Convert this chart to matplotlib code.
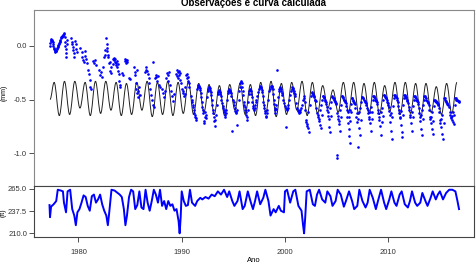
import matplotlib
matplotlib.use("Agg")
import matplotlib.pyplot as plt
from matplotlib.path import Path
from matplotlib.patches import PathPatch

plt.rcParams['font.family'] = ['Liberation Sans', 'DejaVu Sans']

# calculated curve: yearly crest (mid-year) and trough (early year), mm
curve_start = (1977.25, -0.50)
peak_years = [y + 0.65 for y in range(1977, 2017)]
peak_mm = [-0.34, -0.33, -0.33, -0.34, -0.33, -0.33, -0.34, -0.35, -0.34, -0.33,
           -0.34, -0.33, -0.34, -0.33, -0.35, -0.36, -0.37, -0.36, -0.35, -0.36,
           -0.34, -0.33, -0.35, -0.34, -0.33, -0.34, -0.37, -0.41, -0.34, -0.34,
           -0.35, -0.34, -0.37, -0.34, -0.34, -0.35, -0.35, -0.38, -0.35, -0.34]
trough_years = [y + 0.15 for y in range(1978, 2017)]
trough_mm = [-0.65, -0.64, -0.58, -0.65, -0.63, -0.60, -0.65, -0.64, -0.60, -0.66,
             -0.64, -0.65, -0.63, -0.64, -0.62, -0.64, -0.65, -0.60, -0.64, -0.65,
             -0.62, -0.66, -0.64, -0.60, -0.65, -0.63, -0.58, -0.62, -0.62, -0.64,
             -0.63, -0.64, -0.61, -0.64, -0.63, -0.66, -0.62, -0.64, -0.63]

# observations (year, mm)
obs_pts = [
    (1977.24, 0.00), (1977.27, 0.03), (1977.30, 0.05), (1977.34, 0.06), (1977.38, 0.065),
    (1977.42, 0.06), (1977.46, 0.05), (1977.50, 0.035), (1977.54, 0.02), (1977.58, 0.00),
    (1977.62, -0.02), (1977.66, -0.03), (1977.70, -0.04), (1977.74, -0.05), (1977.78, -0.055),
    (1977.82, -0.05), (1977.86, -0.045), (1977.90, -0.03), (1977.94, -0.02), (1977.98, -0.01),
    (1978.02, 0.00), (1978.06, 0.01), (1978.10, 0.02), (1978.14, 0.03), (1978.18, 0.04),
    (1978.22, 0.05), (1978.26, 0.06), (1978.30, 0.07), (1978.34, 0.08), (1978.38, 0.085),
    (1978.42, 0.09), (1978.46, 0.095), (1978.50, 0.10), (1978.55, 0.10), (1978.60, 0.11),
    (1978.65, 0.12), (1978.68, 0.08), (1978.70, 0.04), (1978.72, 0.00), (1978.75, -0.03),
    (1978.78, -0.07), (1978.80, -0.10), (1978.85, 0.06), (1978.90, 0.02),
    (1979.30, 0.07), (1979.35, 0.04), (1979.40, 0.02), (1979.45, -0.01), (1979.50, -0.04),
    (1979.55, -0.07), (1979.60, -0.10), (1979.70, 0.05), (1979.75, 0.02), (1979.80, -0.03),
    (1979.85, -0.06),
    (1980.20, -0.02), (1980.30, -0.06), (1980.35, -0.10), (1980.40, -0.13), (1980.50, -0.15),
    (1980.60, -0.05), (1980.65, -0.09), (1980.70, -0.12), (1980.80, -0.16), (1980.90, -0.22),
    (1981.00, -0.26), (1981.10, -0.32), (1981.15, -0.38), (1981.20, -0.40), (1981.40, -0.14),
    (1981.50, -0.16), (1981.60, -0.13), (1981.70, -0.18),
    (1982.00, -0.22), (1982.10, -0.27), (1982.20, -0.24), (1982.30, -0.29), (1982.40, -0.20),
    (1982.50, -0.10), (1982.55, -0.04), (1982.60, -0.08), (1982.70, 0.07), (1982.72, 0.02),
    (1982.75, -0.02), (1982.80, -0.05), (1982.85, -0.08), (1982.90, -0.10), (1982.95, -0.16),
    (1983.05, -0.15), (1983.10, -0.23), (1983.15, -0.25), (1983.20, -0.20), (1983.30, -0.17),
    (1983.35, -0.12), (1983.40, -0.11), (1983.45, -0.13), (1983.50, -0.15), (1983.55, -0.12),
    (1983.60, -0.16), (1983.65, -0.18), (1983.70, -0.14), (1983.75, -0.20), (1983.80, -0.17),
    (1983.85, -0.23), (1983.90, -0.26), (1983.95, -0.33), (1984.00, -0.36), (1984.05, -0.38),
    (1984.20, -0.25), (1984.30, -0.27), (1984.50, -0.14), (1984.55, -0.12), (1984.60, -0.13),
    (1984.65, -0.16), (1984.70, -0.15), (1984.75, -0.13), (1984.90, -0.30), (1985.00, -0.31),
    (1985.40, -0.20), (1985.45, -0.24), (1985.50, -0.27), (1985.55, -0.35), (1985.60, -0.40),
    (1985.65, -0.22), (1985.70, -0.44), (1985.75, -0.48), (1985.80, -0.42), (1985.90, -0.38),
    (1985.95, -0.46),
    (1986.40, -0.24), (1986.50, -0.22), (1986.55, -0.20), (1986.60, -0.23), (1986.70, -0.26),
    (1986.80, -0.30), (1986.85, -0.35), (1986.90, -0.40), (1987.00, -0.46), (1987.10, -0.50),
    (1987.20, -0.55), (1987.25, -0.15), (1987.30, -0.57),
    (1987.40, -0.30), (1987.50, -0.27), (1987.55, -0.29), (1987.60, -0.33), (1987.70, -0.28),
    (1987.80, -0.36), (1987.90, -0.38),
    (1988.05, -0.40), (1988.15, -0.44), (1988.25, -0.48), (1988.35, -0.42), (1988.50, -0.30),
    (1988.60, -0.25), (1988.65, -0.33), (1988.70, -0.27), (1988.80, -0.24), (1988.90, -0.36),
    (1989.00, -0.42), (1989.10, -0.47), (1989.20, -0.51), (1989.30, -0.45),
    (1989.45, -0.26), (1989.50, -0.22), (1989.55, -0.28), (1989.60, -0.24), (1989.65, -0.30),
    (1989.70, -0.23), (1989.75, -0.27), (1989.80, -0.32), (1989.85, -0.25),
    (1989.95, -0.35), (1990.05, -0.40), (1990.15, -0.44), (1990.25, -0.47), (1990.35, -0.38),
    (1990.45, -0.27), (1990.50, -0.30), (1990.55, -0.26), (1990.60, -0.33), (1990.65, -0.29),
    (1990.70, -0.35),
    (1990.90, -0.47), (1991.00, -0.52), (1991.10, -0.57), (1991.20, -0.63), (1991.30, -0.66),
    (1991.40, -0.69), (1991.50, -0.40), (1991.60, -0.36), (1991.70, -0.38), (1991.80, -0.41),
    (1991.90, -0.48),
    (1992.00, -0.57), (1992.10, -0.63), (1992.15, -0.70), (1992.20, -0.72), (1992.30, -0.62),
    (1992.40, -0.67), (1992.50, -0.42), (1992.60, -0.38), (1992.70, -0.39), (1992.80, -0.43),
    (1992.90, -0.50),
    (1993.00, -0.60), (1993.10, -0.66), (1993.20, -0.75), (1993.25, -0.69), (1993.30, -0.64),
    (1993.50, -0.45), (1993.60, -0.41), (1993.70, -0.43), (1993.80, -0.47), (1993.90, -0.53),
    (1994.00, -0.58), (1994.10, -0.62), (1994.20, -0.66), (1994.30, -0.60),
    (1994.45, -0.44), (1994.55, -0.40), (1994.65, -0.42), (1994.75, -0.44), (1994.90, -0.79),
    (1995.05, -0.52), (1995.15, -0.58), (1995.25, -0.63), (1995.35, -0.60), (1995.40, -0.74),
    (1995.55, -0.42), (1995.65, -0.35), (1995.75, -0.33), (1995.85, -0.38), (1995.95, -0.46),
    (1996.10, -0.57), (1996.20, -0.62), (1996.30, -0.66), (1996.35, -0.69), (1996.40, -0.60),
    (1996.50, -0.45), (1996.60, -0.40), (1996.70, -0.42), (1996.80, -0.48),
    (1996.90, -0.56), (1997.00, -0.60), (1997.10, -0.55), (1997.20, -0.50),
    (1997.50, -0.40), (1997.60, -0.37), (1997.70, -0.39), (1997.80, -0.43), (1997.90, -0.52),
    (1998.00, -0.58), (1998.10, -0.63), (1998.20, -0.66), (1998.30, -0.60),
    (1998.50, -0.42), (1998.60, -0.38), (1998.70, -0.37), (1998.80, -0.40), (1998.90, -0.50),
    (1999.00, -0.58), (1999.07, -0.63), (1999.15, -0.55), (1999.20, -0.225),
    (1999.40, -0.42), (1999.50, -0.38), (1999.60, -0.40), (1999.70, -0.44), (1999.85, -0.50),
    (2000.00, -0.56), (2000.05, -0.76), (2000.10, -0.58), (2000.20, -0.60), (2000.30, -0.55),
    (2000.60, -0.42), (2000.70, -0.38), (2000.80, -0.40), (2000.90, -0.44), (2001.00, -0.47),
    (2001.20, -0.58), (2001.30, -0.61), (2001.40, -0.63), (2001.50, -0.60), (2001.60, -0.55),
    (2001.80, -0.47), (2001.90, -0.52), (2002.00, -0.69), (2002.10, -0.73), (2002.20, -0.77),
    (2002.30, -0.80),
    (2002.60, -0.43), (2002.70, -0.45), (2002.80, -0.47), (2002.90, -0.50), (2003.00, -0.51),
    (2003.10, -0.63), (2003.20, -0.66), (2003.30, -0.70), (2003.40, -0.74), (2003.50, -0.77),
    (2003.55, -0.64),
    (2003.70, -0.47), (2003.80, -0.49), (2003.90, -0.51), (2004.00, -0.54),
    (2004.05, -0.57), (2004.15, -0.62), (2004.25, -0.68), (2004.30, -0.76), (2004.35, -0.80),
    (2004.45, -0.65),
    (2004.55, -0.47), (2004.65, -0.49), (2004.75, -0.50), (2004.85, -0.52), (2004.95, -0.54),
    (2005.00, -1.02), (2005.02, -1.05), (2005.05, -0.63), (2005.15, -0.68), (2005.25, -0.73),
    (2005.35, -0.79), (2005.45, -0.66),
    (2005.50, -0.47), (2005.60, -0.48), (2005.70, -0.50), (2005.80, -0.51), (2005.90, -0.53),
    (2006.00, -0.60), (2006.05, -0.66), (2006.10, -0.72), (2006.15, -0.78), (2006.20, -0.84),
    (2006.25, -0.91), (2006.30, -0.70), (2006.35, -0.62),
    (2006.45, -0.49), (2006.55, -0.50), (2006.65, -0.52), (2006.75, -0.54),
    (2006.90, -0.66), (2007.00, -0.71), (2007.07, -0.94), (2007.15, -0.77), (2007.25, -0.83),
    (2007.35, -0.69),
    (2007.45, -0.48), (2007.55, -0.49), (2007.65, -0.50), (2007.75, -0.52), (2007.85, -0.55),
    (2008.00, -0.60), (2008.10, -0.66), (2008.20, -0.72), (2008.30, -0.79), (2008.40, -0.68),
    (2008.45, -0.62),
    (2008.55, -0.47), (2008.65, -0.48), (2008.75, -0.50), (2008.85, -0.51), (2008.95, -0.54),
    (2009.00, -0.63), (2009.10, -0.69), (2009.20, -0.75), (2009.30, -0.83), (2009.40, -0.71),
    (2009.45, -0.65),
    (2009.55, -0.46), (2009.65, -0.47), (2009.75, -0.49), (2009.85, -0.50), (2009.95, -0.53),
    (2010.05, -0.57), (2010.15, -0.64), (2010.20, -0.71), (2010.30, -0.79), (2010.35, -0.87),
    (2010.40, -0.66),
    (2010.60, -0.46), (2010.70, -0.47), (2010.80, -0.49), (2010.90, -0.52),
    (2011.00, -0.60), (2011.10, -0.67), (2011.20, -0.74), (2011.30, -0.85), (2011.35, -0.80),
    (2011.40, -0.64),
    (2011.55, -0.46), (2011.65, -0.47), (2011.75, -0.49), (2011.85, -0.51),
    (2012.00, -0.57), (2012.10, -0.64), (2012.20, -0.72), (2012.30, -0.79), (2012.35, -0.66),
    (2012.50, -0.47), (2012.60, -0.48), (2012.70, -0.50), (2012.80, -0.51), (2012.90, -0.54),
    (2013.00, -0.63), (2013.10, -0.70), (2013.20, -0.78), (2013.30, -0.83), (2013.35, -0.68),
    (2013.50, -0.47), (2013.60, -0.48), (2013.70, -0.50), (2013.80, -0.52), (2013.90, -0.55),
    (2014.00, -0.66), (2014.10, -0.72), (2014.20, -0.78), (2014.30, -0.82), (2014.35, -0.70),
    (2014.45, -0.50), (2014.55, -0.51), (2014.65, -0.52), (2014.75, -0.53), (2014.85, -0.55),
    (2015.00, -0.69), (2015.10, -0.76), (2015.20, -0.82), (2015.30, -0.87), (2015.35, -0.72),
    (2015.40, -0.49), (2015.50, -0.50), (2015.60, -0.52), (2015.70, -0.54), (2015.85, -0.57),
    (2016.05, -0.66), (2016.15, -0.69), (2016.25, -0.71), (2016.35, -0.73), (2016.40, -0.64),
    (2016.50, -0.49), (2016.60, -0.50), (2016.70, -0.50), (2016.80, -0.51), (2016.85, -0.52),
    # denser readings along the seasonal band
    (1990.10, -0.42), (1990.30, -0.45), (1990.75, -0.38), (1990.95, -0.50), (1991.05, -0.55),
    (1991.15, -0.60), (1991.25, -0.64), (1991.35, -0.67),
    (1991.55, -0.38), (1991.65, -0.37), (1991.75, -0.39), (1991.85, -0.44), (1991.95, -0.52),
    (1992.05, -0.60), (1992.25, -0.66), (1992.35, -0.64),
    (1992.45, -0.48), (1992.55, -0.40), (1992.65, -0.38), (1992.75, -0.41), (1992.85, -0.46),
    (1992.95, -0.55), (1993.05, -0.63), (1993.15, -0.70),
    (1993.40, -0.55), (1993.55, -0.43), (1993.65, -0.42), (1993.75, -0.45), (1993.85, -0.50),
    (1993.95, -0.56), (1994.05, -0.60), (1994.15, -0.64), (1994.25, -0.63),
    (1994.40, -0.50), (1994.50, -0.42), (1994.60, -0.41), (1994.70, -0.43), (1994.80, -0.47),
    (1994.95, -0.50), (1995.10, -0.55), (1995.20, -0.61), (1995.30, -0.62),
    (1995.50, -0.50), (1995.60, -0.38), (1995.70, -0.34), (1995.80, -0.35), (1995.90, -0.42),
    (1996.00, -0.52), (1996.05, -0.55), (1996.15, -0.60), (1996.25, -0.64),
    (1996.45, -0.52), (1996.55, -0.42), (1996.65, -0.41), (1996.75, -0.45), (1996.85, -0.52),
    (1996.95, -0.58), (1997.05, -0.58), (1997.15, -0.52), (1997.30, -0.47), (1997.40, -0.43),
    (1997.55, -0.38), (1997.65, -0.38), (1997.75, -0.41), (1997.85, -0.47), (1997.95, -0.55),
    (1998.05, -0.61), (1998.15, -0.65), (1998.25, -0.63), (1998.40, -0.50),
    (1998.55, -0.40), (1998.65, -0.37), (1998.75, -0.38), (1998.85, -0.45), (1998.95, -0.54),
    (1999.05, -0.60), (1999.10, -0.59), (1999.30, -0.48),
    (1999.45, -0.40), (1999.55, -0.39), (1999.65, -0.42), (1999.75, -0.46), (1999.95, -0.53),
    (2000.15, -0.59), (2000.25, -0.58), (2000.40, -0.50), (2000.50, -0.46),
    (2000.65, -0.40), (2000.75, -0.39), (2000.85, -0.42), (2000.95, -0.45), (2001.10, -0.53),
    (2001.25, -0.60), (2001.35, -0.62), (2001.45, -0.62), (2001.55, -0.58), (2001.70, -0.50),
    (2001.85, -0.49), (2001.95, -0.60), (2002.05, -0.71), (2002.15, -0.75), (2002.25, -0.62),
    (2002.40, -0.55), (2002.50, -0.47),
    (2002.65, -0.44), (2002.75, -0.46), (2002.85, -0.48), (2002.95, -0.50), (2003.05, -0.58),
    (2003.15, -0.64), (2003.25, -0.68), (2003.35, -0.60), (2003.45, -0.55), (2003.60, -0.50),
    (2003.65, -0.47), (2003.75, -0.48), (2003.85, -0.50), (2003.95, -0.52), (2004.10, -0.60),
    (2004.20, -0.65), (2004.40, -0.58), (2004.50, -0.52),
    (2004.60, -0.48), (2004.70, -0.49), (2004.80, -0.51), (2004.90, -0.53), (2005.10, -0.65),
    (2005.20, -0.70), (2005.30, -0.60), (2005.40, -0.55),
    (2005.55, -0.47), (2005.65, -0.49), (2005.75, -0.50), (2005.85, -0.52), (2005.95, -0.56),
    (2006.08, -0.62), (2006.18, -0.66), (2006.28, -0.60), (2006.40, -0.54),
    (2006.50, -0.49), (2006.60, -0.51), (2006.70, -0.53), (2006.80, -0.58), (2006.95, -0.63),
    (2007.05, -0.68), (2007.20, -0.62), (2007.30, -0.58), (2007.40, -0.52),
    (2007.50, -0.48), (2007.60, -0.49), (2007.70, -0.51), (2007.80, -0.53), (2007.95, -0.58),
    (2008.05, -0.63), (2008.15, -0.68), (2008.25, -0.62), (2008.35, -0.57), (2008.50, -0.50),
    (2008.60, -0.47), (2008.70, -0.49), (2008.80, -0.50), (2008.90, -0.52), (2009.05, -0.60),
    (2009.15, -0.66), (2009.25, -0.62), (2009.35, -0.58), (2009.50, -0.50),
    (2009.60, -0.46), (2009.70, -0.48), (2009.80, -0.49), (2009.90, -0.52), (2010.00, -0.55),
    (2010.10, -0.61), (2010.25, -0.63), (2010.45, -0.56), (2010.55, -0.49),
    (2010.65, -0.46), (2010.75, -0.48), (2010.85, -0.50), (2010.95, -0.56), (2011.05, -0.63),
    (2011.15, -0.66), (2011.25, -0.61), (2011.45, -0.55), (2011.50, -0.49),
    (2011.60, -0.46), (2011.70, -0.48), (2011.80, -0.50), (2011.90, -0.53), (2012.05, -0.60),
    (2012.15, -0.66), (2012.25, -0.62), (2012.40, -0.56), (2012.45, -0.50),
    (2012.55, -0.47), (2012.65, -0.49), (2012.75, -0.50), (2012.85, -0.52), (2012.95, -0.58),
    (2013.05, -0.66), (2013.15, -0.64), (2013.25, -0.60), (2013.40, -0.55), (2013.45, -0.50),
    (2013.55, -0.47), (2013.65, -0.49), (2013.75, -0.51), (2013.85, -0.53), (2013.95, -0.60),
    (2014.05, -0.68), (2014.15, -0.66), (2014.25, -0.62), (2014.40, -0.56),
    (2014.50, -0.50), (2014.60, -0.51), (2014.70, -0.52), (2014.80, -0.54), (2014.90, -0.58),
    (2014.95, -0.62), (2015.05, -0.72), (2015.15, -0.68), (2015.25, -0.64),
    (2015.45, -0.49), (2015.55, -0.51), (2015.65, -0.53), (2015.75, -0.55), (2015.95, -0.62),
    (2016.00, -0.64), (2016.10, -0.67), (2016.20, -0.65), (2016.30, -0.62), (2016.45, -0.55),
    (2016.55, -0.49), (2016.65, -0.50), (2016.75, -0.51),
]

# water level (year, ft)
level_pts = [
    (1977.20, 245), (1977.25, 230), (1977.35, 243), (1977.60, 246), (1977.85, 250),
    (1978.00, 264), (1978.30, 263), (1978.50, 262), (1978.60, 248), (1978.80, 236),
    (1978.95, 262), (1979.20, 264), (1979.40, 240), (1979.60, 232), (1979.75, 220),
    (1979.90, 236), (1980.10, 240), (1980.30, 248), (1980.50, 257), (1980.70, 255),
    (1980.90, 244), (1981.10, 238), (1981.30, 256), (1981.50, 258), (1981.70, 248),
    (1981.90, 252), (1982.10, 258), (1982.30, 246), (1982.50, 238), (1982.70, 232),
    (1982.85, 220), (1983.00, 238), (1983.20, 264), (1983.50, 263), (1983.80, 260),
    (1984.00, 258), (1984.20, 255), (1984.40, 240), (1984.55, 220), (1984.70, 232),
    (1984.90, 255), (1985.10, 264), (1985.30, 262), (1985.50, 240), (1985.70, 245),
    (1985.90, 262), (1986.10, 242), (1986.30, 240), (1986.50, 264), (1986.70, 248),
    (1986.90, 238), (1987.10, 250), (1987.30, 264), (1987.50, 258), (1987.70, 248),
    (1987.90, 264), (1988.10, 244), (1988.30, 250), (1988.50, 240), (1988.70, 250),
    (1988.90, 244), (1989.10, 246), (1989.30, 238), (1989.50, 240), (1989.70, 225),
    (1989.80, 210), (1989.90, 230), (1990.00, 262), (1990.20, 250), (1990.40, 244),
    (1990.60, 245), (1990.80, 264), (1991.00, 248), (1991.30, 244), (1991.50, 250),
    (1991.80, 254), (1992.00, 252), (1992.30, 255), (1992.60, 253), (1992.90, 258),
    (1993.20, 256), (1993.50, 262), (1993.80, 258), (1994.10, 264), (1994.40, 255),
    (1994.60, 262), (1994.90, 250), (1995.10, 244), (1995.40, 250), (1995.60, 262),
    (1995.90, 240), (1996.10, 244), (1996.40, 262), (1996.70, 248), (1996.90, 240),
    (1997.10, 250), (1997.30, 262), (1997.60, 246), (1997.90, 254), (1998.10, 264),
    (1998.40, 250), (1998.60, 232), (1998.90, 240), (1999.10, 236), (1999.40, 244),
    (1999.60, 238), (1999.90, 236), (2000.00, 262), (2000.20, 264), (2000.50, 248),
    (2000.80, 262), (2001.00, 264), (2001.30, 244), (2001.60, 238), (2001.75, 220),
    (2001.85, 210), (2001.95, 228), (2002.10, 262), (2002.40, 264), (2002.70, 246),
    (2002.90, 244), (2003.10, 258), (2003.30, 264), (2003.60, 252), (2003.90, 248),
    (2004.10, 262), (2004.40, 256), (2004.60, 244), (2004.90, 250), (2005.10, 264),
    (2005.40, 258), (2005.70, 243), (2005.90, 250), (2006.20, 262), (2006.50, 250),
    (2006.70, 240), (2007.00, 244), (2007.20, 264), (2007.50, 250), (2007.80, 242),
    (2008.00, 248), (2008.20, 264), (2008.50, 254), (2008.80, 240), (2009.00, 250),
    (2009.30, 264), (2009.60, 248), (2009.80, 240), (2010.10, 252), (2010.30, 262),
    (2010.60, 248), (2010.80, 244), (2011.10, 258), (2011.30, 262), (2011.60, 246),
    (2011.90, 242), (2012.10, 250), (2012.30, 262), (2012.60, 248), (2012.80, 244),
    (2013.10, 248), (2013.30, 260), (2013.60, 250), (2013.80, 244), (2014.10, 254),
    (2014.30, 262), (2014.60, 252), (2014.80, 258), (2015.00, 262), (2015.30, 252),
    (2015.60, 260), (2015.90, 264), (2016.20, 264), (2016.50, 262), (2016.70, 250),
    (2016.85, 240),
]

fig = plt.figure(figsize=(4.77, 2.65), dpi=100)
ax1 = fig.add_axes([0.0713, 0.2992, 0.9224, 0.6631])
ax2 = fig.add_axes([0.0713, 0.1068, 0.9224, 0.1924])

# calculated curve as smooth half-waves between extremes
ext = [curve_start]
for i in range(len(peak_years)):
    ext.append((peak_years[i], peak_mm[i]))
    if i < len(trough_years):
        ext.append((trough_years[i], trough_mm[i]))
verts = [ext[0]]
codes = [Path.MOVETO]
for (x0, y0), (x1, y1) in zip(ext[:-1], ext[1:]):
    dx = x1 - x0
    verts += [(x0 + 0.364 * dx, y0), (x1 - 0.364 * dx, y1), (x1, y1)]
    codes += [Path.CURVE4] * 3
ax1.add_patch(PathPatch(Path(verts, codes), fill=False, edgecolor='#222222', lw=0.7))

ox = [p[0] for p in obs_pts]
oy = [p[1] for p in obs_pts]
ax1.plot(ox, oy, 'o', color='#0000ff', ms=1.9, mew=0)

ax1.set_xlim(1975.7, 2018.3)
ax1.set_ylim(-1.305, 0.336)
ax1.set_yticks([0.0, -0.5, -1.0])
ax1.set_yticklabels(['0.0', '-0.5', '-1.0'])
ax1.set_xticks([])
ax1.set_ylabel('(mm)', fontsize=5)
ax1.yaxis.set_label_coords(-0.061, 0.53)
fig.text(0.532, 1 - 5.5 / 265, 'Observações e curva calculada', ha='center',
         va='baseline', fontsize=7, fontweight='bold')

lx = [p[0] for p in level_pts]
ly = [p[1] for p in level_pts]
ax2.plot(lx, ly, '-', color='#0000ff', lw=1.4)
ax2.set_xlim(1975.7, 2018.3)
ax2.set_ylim(205.8, 269.0)
ax2.set_yticks([265.0, 237.5, 210.0])
ax2.set_yticklabels(['265.0', '237.5', '210.0'])
ax2.set_xticks([1980, 1990, 2000, 2010])
ax2.set_xlabel('Ano', fontsize=5.5, labelpad=1)
ax2.set_ylabel('(ft)', fontsize=5)
ax2.yaxis.set_label_coords(-0.062, 0.48)

for ax, c in ((ax1, '#888888'), (ax2, '#444444')):
    for s in ax.spines.values():
        s.set_color(c)
        s.set_linewidth(0.8)
    ax.tick_params(labelsize=5.5, length=3.5, width=0.6, pad=1.5, colors='#333333')
ax2.tick_params(axis='x', pad=5)

fig.savefig('out.png', dpi=100)
